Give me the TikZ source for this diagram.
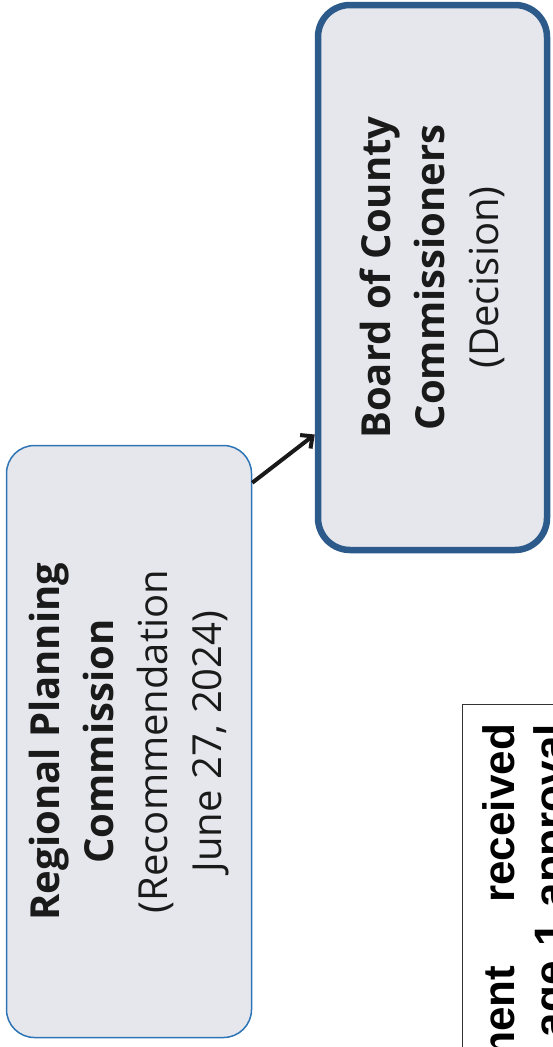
\documentclass[tikz,border=0pt]{standalone}
\usepackage{fontspec}
\setmainfont{Open Sans}
\newfontfamily\notefont{Liberation Sans}
\usetikzlibrary{arrows.meta,positioning,calc}
\definecolor{boxfill}{HTML}{E6E7ED}
\definecolor{rpcblue}{HTML}{2E75B6}
\definecolor{boccblue}{HTML}{2C5A8A}
\definecolor{inkgray}{HTML}{1A1A1A}

\begin{document}
\begin{tikzpicture}[x=1pt,y=-1pt,
  stage/.style={rectangle,rounded corners=28pt,fill=boxfill,rotate=90,
    align=center,text=inkgray,inner sep=0pt,
    font=\fontsize{40}{54}\selectfont},
  flow/.style={-{Straight Barb[length=9pt,width=17pt]},line width=4pt,black!90}]
  \useasboundingbox (0,0) rectangle (552,1047);
  \node[stage,draw=rpcblue,line width=1.5pt,minimum width=592pt,minimum height=245pt]
    (rpc) at (129,741.5)
    {\textbf{Regional Planning}\\\textbf{Commission}\\(Recommendation\\June 27, 2024)};
  \node[stage,draw=boccblue,line width=6.5pt,rounded corners=32pt,minimum width=545pt,minimum height=229pt]
    (bocc) at (432.5,277.5)
    {\textbf{Board of County}\\\textbf{Commissioners}\\(Decision)};
  \draw[flow] ([yshift=-38pt]rpc.south east) -- ([yshift=-157pt]bocc.north);
  \node[draw=black!80,line width=1pt,rotate=90,anchor=north east,text width=420pt,
    align=right,inner xsep=20pt,inner ysep=21pt,
    font=\notefont\bfseries\fontsize{44}{51}\selectfont]
    (note) at (461.5,703.5) {ment\hspace{63pt}received\\age 1 approval};
\end{tikzpicture}
\end{document}
